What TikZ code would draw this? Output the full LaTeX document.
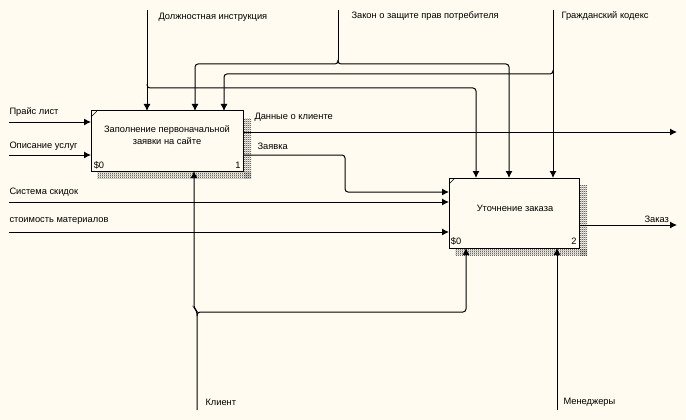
\documentclass[tikz,border=0pt]{standalone}
\usepackage{fontspec}
\setmainfont{Liberation Sans}
\usetikzlibrary{arrows.meta,patterns}
\definecolor{fondo}{RGB}{255,251,240}
\pgfdeclarepatternformonly{scacchi}{\pgfpointorigin}{\pgfpoint{2pt}{2pt}}{\pgfpoint{2pt}{2pt}}{
	\pgfpathrectangle{\pgfpointorigin}{\pgfpoint{1pt}{1pt}}
	\pgfpathrectangle{\pgfpoint{1pt}{1pt}}{\pgfpoint{1pt}{1pt}}
	\pgfusepath{fill}}

\begin{document}
\begin{tikzpicture}[x=1pt,y=-1pt,>={Latex[length=7pt,width=7pt]},
		line width=1pt,
		font=\fontsize{9.3}{12}\selectfont,
		blocco/.style={draw,fill=fondo,outer sep=0pt,inner sep=0pt},
		ombra/.style={pattern=scacchi,pattern color=black!80},
		lbl/.style={anchor=west,inner sep=0pt},
		curva/.style={rounded corners=3pt}]
		\useasboundingbox[fill=fondo] (0,0) rectangle (686,420);
		% Blocchi
		\node[blocco,minimum width=152pt,minimum height=60pt] (b1) at (167,141) {};
		\node[blocco,minimum width=130pt,minimum height=70pt] (b2) at (514,213) {};
		% Ombre
		\fill[ombra] ([shift={(1,7)}]b1.north east) rectangle ([shift={(8,7)}]b1.south east);
		\fill[ombra] ([shift={(6,1)}]b1.south west) rectangle ([shift={(8,7)}]b1.south east);
		\fill[ombra] ([shift={(1,7)}]b2.north east) rectangle ([shift={(8,7)}]b2.south east);
		\fill[ombra] ([shift={(6,1)}]b2.south west) rectangle ([shift={(8,7)}]b2.south east);
		\draw[line width=0.6pt] ([shift={(0,6)}]b1.north west) -- ([shift={(6,0)}]b1.north west);
		\draw[line width=0.6pt] ([shift={(0,6)}]b2.north west) -- ([shift={(6,0)}]b2.north west);
		\node[align=center] (t1) at (167,135) {Заполнение первоначальной\\заявки на сайте};
		\node (t2) at (515,208) {Уточнение заказа};
		\node (n1a) at (99,165) {\$0};
		\node (n1b) at (238,165) {1};
		\node (n2a) at (456,241) {\$0};
		\node (n2b) at (574,241) {2};
		
		% Estremi
		\coordinate (di) at (147,10);
		\coordinate (diB) at (147,88);
		\coordinate (zk) at (338,10);
		\coordinate (zkB) at (338,64);
		\coordinate (gk) at (553,10);
		\coordinate (gkB) at (553,74);
		\coordinate (kl) at (197,410);
		\coordinate (klB) at (197,312);
		\coordinate (mn) at (557,410);
		\coordinate (pl) at (9,122);
		\coordinate (ou) at (9,155);
		\coordinate (ss) at (9,202);
		\coordinate (sm) at (9,232);
		\coordinate (dk) at (677,132);
		\coordinate (zz) at (677,225);
		% Curve
		\coordinate (c1) at (195,64);
		\coordinate (c2) at (509,64);
		\coordinate (c3) at (224,74);
		\coordinate (c4) at (476,88);
		\coordinate (c5) at (466,312);
		\coordinate (c6) at (345,155);
		\coordinate (c7) at (345,192);
		\coordinate (c8) at (194,308);
		
		% Controlli
		\draw[->] (di) -- (di |- b1.north);
		\draw[->,curva] ([yshift=4pt]diB) -- (diB) -- (c4) -- (c4 |- b2.north);
		\draw (zk) -- ([yshift=4pt]zkB);
		\draw[->,curva] ([yshift=4pt]zkB) -- (zkB) -- (c1) -- (c1 |- b1.north);
		\draw[->,curva] ([yshift=4pt]zkB) -- (zkB) -- (c2) -- (c2 |- b2.north);
		\draw[->] (gk) -- (gk |- b2.north);
		\draw[->,curva] ([yshift=4pt]gkB) -- (gkB) -- (c3) -- (c3 |- b1.north);
		% Ingressi
		\draw[->] (pl) -- (pl -| b1.west);
		\draw[->] (ou) -- (ou -| b1.west);
		\draw[->] (ss) -- (ss -| b2.west);
		\draw[->] (sm) -- (sm -| b2.west);
		% Uscite
		\draw[->] (dk -| b1.east) -- (dk);
		\draw[->,curva] (c6 -| b1.east) -- (c6) -- (c7) -- (c7 -| b2.west);
		\draw[->] (zz -| b2.east) -- (zz);
		% Meccanismi
		\draw[->,curva] (kl) -- ([yshift=1pt]klB) -- (c8) -- (c8 |- b1.south);
		\draw[->,curva] ([yshift=-4pt]klB) -- (klB) -- (c5) -- (c5 |- b2.south);
		\draw[->] (mn) -- (mn |- b2.south);
		
		% Etichette
		\node[lbl] (l1) at (158,17) {Должностная инструкция};
		\node[lbl] (l2) at (351,16) {Закон о защите прав потребителя};
		\node[lbl] (l3) at (561,16) {Гражданский кодекс};
		\node[lbl] (l4) at (9,112) {Прайс лист};
		\node[lbl] (l5) at (9,146) {Описание услуг};
		\node[lbl] (l6) at (254,117) {Данные о клиенте};
		\node[lbl] (l7) at (257,146) {Заявка};
		\node[lbl] (l8) at (9,192) {Система скидок};
		\node[lbl] (l9) at (9,221) {стоимость материалов};
		\node[lbl] (l10) at (205,402) {Клиент};
		\node[lbl] (l11) at (563,402) {Менеджеры};
		\node[lbl] (l12) at (644,219) {Заказ};
	\end{tikzpicture}
\end{document}
